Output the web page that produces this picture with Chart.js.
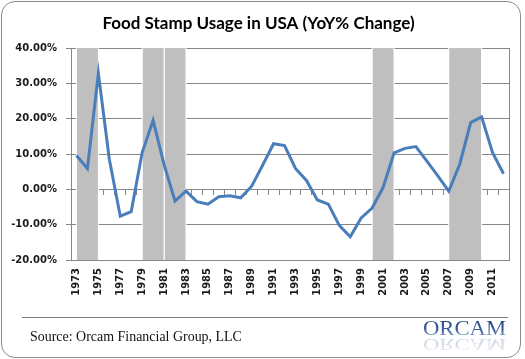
<!DOCTYPE html>
<html>
<head>
<meta charset="utf-8">
<script src="https://cdn.jsdelivr.net/npm/chart.js@4.4.1/dist/chart.umd.min.js"></script>
<style>
  html, body { margin: 0; padding: 0; background: #fff; }
  #wrap { position: relative; width: 525px; height: 359px; overflow: hidden; }
  #frame {
    position: absolute; left: 1px; top: 1px; width: 518px; height: 355px;
    border: 1px solid #8a8a8a; border-radius: 14px;
  }
  #chart { position: absolute; left: 0; top: 0; }
  #rule { position: absolute; left: 22px; top: 317px; width: 486px; height: 0; border-top: 1px solid #7f7f7f; }
  #source {
    position: absolute; left: 30px; top: 328px; white-space: nowrap;
    font-family: "Liberation Serif", "DejaVu Serif", serif; font-size: 15px; color: #111;
    transform: scaleX(0.93); transform-origin: left top;
  }
  .logo {
    position: absolute; left: 423px; white-space: nowrap;
    font-family: "Liberation Serif", serif; font-size: 22px; line-height: 22px;
    transform-origin: left top;
    background: linear-gradient(#1e3a6c, #3a5f9c 55%, #9ab2d6);
    -webkit-background-clip: text; background-clip: text; color: transparent;
  }
  #logo { top: 317px; transform: scaleX(1.03); }
  #logoReflect {
    top: 353px; transform: scaleX(1.03) scaleY(-0.8); opacity: 0.4;
    -webkit-mask-image: linear-gradient(to bottom, rgba(0,0,0,0.1), rgba(0,0,0,1));
    mask-image: linear-gradient(to bottom, rgba(0,0,0,0.1), rgba(0,0,0,1));
  }
</style>
</head>
<body>
<div id="wrap">
  <div id="frame"></div>
  <canvas id="chart" width="525" height="310"></canvas>
  <div id="rule"></div>
  <div id="source">Source: Orcam Financial Group, LLC</div>
  <div id="logo" class="logo">ORCAM</div>
  <div id="logoReflect" class="logo" aria-hidden="true">ORCAM</div>
</div>
<script>
// Years on the category axis
const years = [];
for (let y = 1973; y <= 2012; y++) years.push(String(y));

// Food stamp usage, YoY % change
const yoyChange = [
  9.6, 5.9, 32.8, 8.5, -7.6, -6.3, 10.4, 19.5, 7.0, -3.3,
  -0.5, -3.5, -4.2, -2.1, -1.8, -2.4, 0.9, 6.8, 12.9, 12.4,
  5.9, 2.5, -3.0, -4.2, -10.2, -13.4, -8.1, -5.3, 0.5, 10.3,
  11.6, 12.1, 8.0, 3.8, -0.5, 7.1, 18.9, 20.5, 10.4, 4.4
];

// Recession shading (from year centre to year centre)
const recessionStart = [1973, 1979, 1981, 2000, 2007];
const recessionEnd = [1975, 1981, 1983, 2002, 2010];

// Y axis ticks
const yMin = -20;
const yMax = 40;
const yStep = 10;

const COLORS = {
    line: '#4a7ebb',
    band: '#bfbfbf',
    grid: '#868686',
    text: '#1a1a1a'
};

const bandSets = recessionStart.map((s, i) => ({
    label: 'Recession ' + s,
    data: years.map(y => (+y >= s && +y <= recessionEnd[i]) ? yMax : null),
    backgroundColor: COLORS.band,
    borderWidth: 0,
    pointRadius: 0,
    fill: 'start',
    spanGaps: false,
    order: 2
}));

// thin white edge on each band so the touching 1980 / 1981-82 bands stay apart
const bandGap = {
    id: 'bandGap',
    afterDatasetDraw(chart, args) {
        const ds = chart.data.datasets[args.index];
        if (!ds.label || ds.label.indexOf('Recession') !== 0) return;
        const pts = args.meta.data.filter((p, j) => ds.data[j] !== null);
        if (!pts.length) return;
        const area = chart.chartArea;
        const c = chart.ctx;
        c.save();
        c.fillStyle = '#fff';
        [pts[0].x, pts[pts.length - 1].x].forEach(x => {
            c.fillRect(x - 0.5, area.top, 1, area.bottom - area.top);
        });
        c.restore();
    }
};

const ctx = document.getElementById('chart').getContext('2d');
new Chart(ctx, {
    type: 'line',
    data: {
        labels: years,
        datasets: [
            {
                label: 'YoY % Change',
                data: yoyChange,
                borderColor: COLORS.line,
                borderWidth: 3,
                pointRadius: 0,
                tension: 0,
                fill: false,
                order: 0
            },
            ...bandSets
        ]
    },
    options: {
        responsive: false,
        animation: false,
        layout: { padding: { top: 0, left: 8, right: 16, bottom: 10 } },
        plugins: {
            legend: { display: false },
            tooltip: { enabled: false },
            title: {
                display: true,
                text: 'Food Stamp Usage in USA (YoY% Change)',
                color: '#000',
                font: { family: 'Lato', size: 17, weight: 'bold', lineHeight: 1.2 },
                padding: { top: 13, bottom: 14.6 }
            }
        },
        scales: {
            x: {
                type: 'category',
                offset: true,
                grid: { display: false, drawTicks: false },
                border: { display: false },
                ticks: {
                    autoSkip: false,
                    minRotation: 90,
                    maxRotation: 90,
                    padding: 8,
                    color: COLORS.text,
                    font: { family: 'DejaVu Sans', size: 10, weight: 'bold' },
                    callback: function(value, index) {
                        return index % 2 === 0 ? this.getLabelForValue(value) : '';
                    }
                },
                afterFit: s => { s.height = 40; }
            },
            xZero: {
                type: 'category',
                labels: years,
                position: { y: 0 },
                offset: true,
                grid: { drawOnChartArea: false, drawTicks: true, tickLength: 5, color: COLORS.grid, offset: true },
                border: { display: true, color: COLORS.grid },
                ticks: { display: false }
            },
            y: {
                min: yMin,
                max: yMax,
                grid: { color: COLORS.grid, tickLength: 5 },
                border: { color: COLORS.grid },
                ticks: {
                    stepSize: yStep,
                    padding: 9,
                    color: COLORS.text,
                    font: { family: 'DejaVu Sans', size: 10, weight: 'bold' },
                    callback: v => v.toFixed(2) + '%'
                },
                afterFit: s => { s.width = 63; }
            },
            yRight: {
                position: 'right',
                min: yMin,
                max: yMax,
                grid: { drawOnChartArea: false, drawTicks: false },
                border: { display: true, color: COLORS.grid },
                ticks: { display: false },
                afterFit: s => { s.width = 0; }
            }
        }
    },
    plugins: [bandGap]
});
</script>
</body>
</html>
